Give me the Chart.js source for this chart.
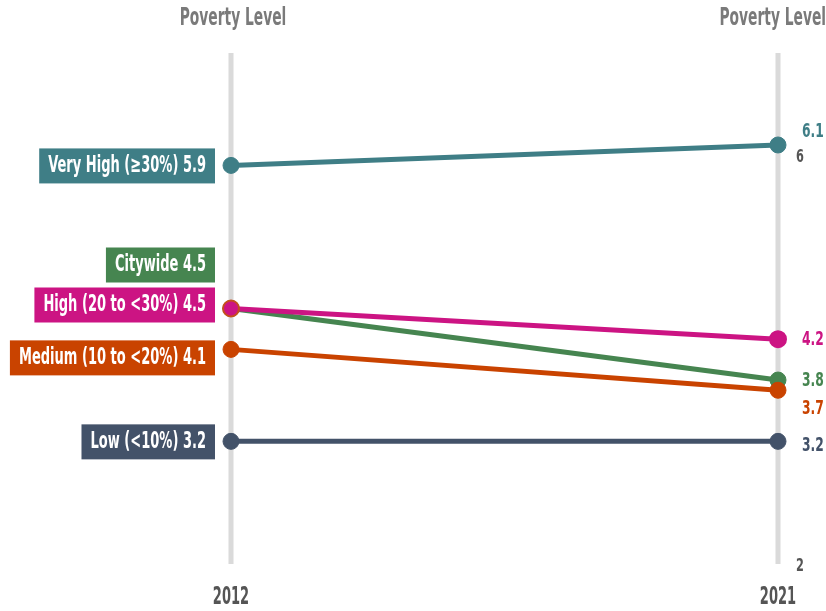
<!DOCTYPE html>
<html>
<head>
<meta charset="utf-8">
<script src="https://cdn.jsdelivr.net/npm/chart.js@4/dist/chart.umd.min.js"></script>
<style>
  html, body { margin: 0; padding: 0; background: #fff; }
  #wrap { width: 826px; height: 611px; }
</style>
</head>
<body>
<div id="wrap"><canvas id="slope" width="826" height="611"></canvas></div>
<script>
// data
const years = ['2012', '2021'];
const groupNames = ['Very High (\u226530%)', 'Citywide', 'High (20 to <30%)', 'Medium (10 to <20%)', 'Low (<10%)'];
const values2012 = [5.9, 4.5, 4.5, 4.1, 3.2];
const values2021 = [6.1, 3.8, 4.2, 3.7, 3.2];
const yTickValues = [2, 6];
const axisTitle = 'Poverty Level';

// styles
const colors = ['#3f7e86', '#468550', '#cc1483', '#c94300', '#435269'];
const drawOrder = [0, 1, 0, 0, 0];          // citywide sits under the others
const leftShift = [0, -44, -4, 8, 0];       // label nudges (px)
const rightShift = [-13, 1, 1, 19, 5];
const FONT = "'DejaVu Sans Condensed', 'Liberation Sans Narrow', sans-serif";

// draws bold text compressed horizontally (the source uses a very narrow face)
function squeezedText(ctx, text, x, y, align, size, color, sq) {
    ctx.save();
    ctx.font = 'bold ' + size + 'px ' + FONT;
    ctx.fillStyle = color;
    ctx.textBaseline = 'middle';
    const w = ctx.measureText(text).width * sq;
    let left = x;
    if (align === 'right') left = x - w;
    else if (align === 'center') left = x - w / 2;
    ctx.translate(left, y);
    ctx.scale(sq, 1);
    ctx.textAlign = 'left';
    ctx.fillText(text, 0, 0);
    ctx.restore();
    return w;
}

const slopeDecor = {
    id: 'slopeDecor',
    beforeDatasetsDraw(chart) {
        const ctx = chart.ctx;
        const area = chart.chartArea;
        const xs = chart.scales.x;
        ctx.save();
        ctx.strokeStyle = '#dadada';
        ctx.lineWidth = 5;
        years.forEach((yr, i) => {
            const px = xs.getPixelForValue(i);
            ctx.beginPath();
            ctx.moveTo(px, area.top);
            ctx.lineTo(px, area.bottom);
            ctx.stroke();
        });
        ctx.restore();
    },
    afterDatasetsDraw(chart) {
        const ctx = chart.ctx;
        const xs = chart.scales.x;
        const ys = chart.scales.y;
        const x0 = xs.getPixelForValue(0);
        const x1 = xs.getPixelForValue(1);

        // headers and years
        squeezedText(ctx, axisTitle, x0 + 2, 19, 'center', 24, '#7a7a7a', 0.64);
        squeezedText(ctx, axisTitle, 826, 19, 'right', 24, '#7a7a7a', 0.64);
        squeezedText(ctx, years[0], x0, 597, 'center', 25, '#555', 0.58);
        squeezedText(ctx, years[1], x1, 597, 'center', 25, '#555', 0.58);

        // right axis ticks
        yTickValues.forEach(v => {
            squeezedText(ctx, String(v), x1 + 18, ys.getPixelForValue(v) + 2, 'left', 18, '#555', 0.7);
        });

        // left boxed labels
        groupNames.forEach((name, i) => {
            const cy = ys.getPixelForValue(values2012[i]) + leftShift[i];
            const text = name + ' ' + values2012[i].toFixed(1);
            ctx.save();
            ctx.font = 'bold 23px ' + FONT;
            const w = ctx.measureText(text).width * 0.63;
            ctx.restore();
            const right = x0 - 16;
            ctx.fillStyle = colors[i];
            ctx.fillRect(right - w - 18, cy - 17, w + 18, 35);
            squeezedText(ctx, text, right - 9, cy + 1, 'right', 23, '#fff', 0.63);
        });

        // right value labels
        groupNames.forEach((name, i) => {
            const cy = ys.getPixelForValue(values2021[i]) + rightShift[i];
            squeezedText(ctx, values2021[i].toFixed(1), x1 + 24, cy, 'left', 19, colors[i], 0.72);
        });
    }
};

const datasets = groupNames.map((name, i) => ({
    label: name,
    data: [values2012[i], values2021[i]],
    borderColor: colors[i],
    backgroundColor: colors[i],
    pointBackgroundColor: colors[i],
    pointBorderColor: i === 2 ? ['#c4501c', colors[i]] : colors[i],
    pointBorderWidth: i === 2 ? 2 : 1,
    borderWidth: 5,
    pointRadius: 8,
    pointHoverRadius: 8,
    order: drawOrder[i],
    clip: false,
    tension: 0
}));

new Chart(document.getElementById('slope'), {
    type: 'line',
    data: { labels: years, datasets },
    plugins: [slopeDecor],
    options: {
        responsive: false,
        devicePixelRatio: 1,
        animation: false,
        layout: { padding: { left: 231, right: 48, top: 53, bottom: 47 } },
        plugins: { legend: { display: false }, tooltip: { enabled: false } },
        scales: {
            x: { type: 'category', display: false, offset: false },
            y: { display: false, min: 2, max: 7 }
        }
    }
});
</script>
</body>
</html>
